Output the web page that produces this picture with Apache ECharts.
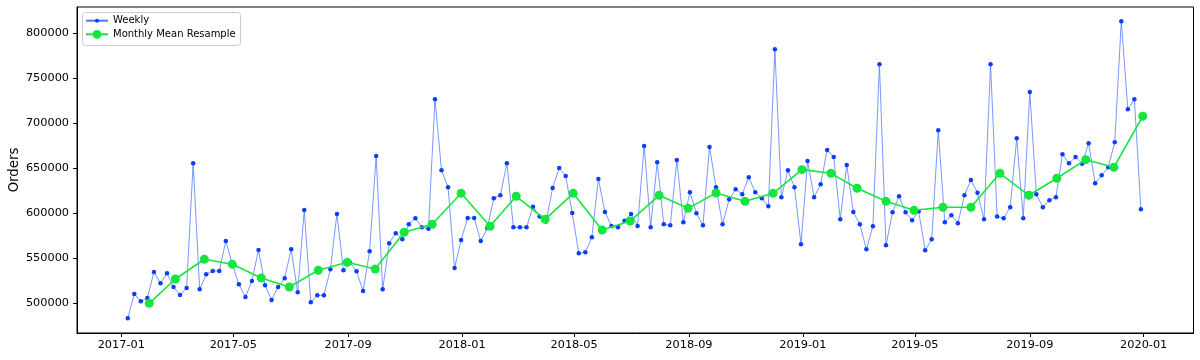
<!DOCTYPE html>
<html>
<head>
<meta charset="utf-8">
<script src="https://cdn.jsdelivr.net/npm/echarts@6/dist/echarts.min.js"></script>
<style>
html,body{margin:0;padding:0;background:#fff;}
#chart{width:1200px;height:360px;}
</style>
</head>
<body>
<div id="chart"></div>
<script>
// ---- data ----
var weeklyStart = '2017-01-08';   // first weekly (Sunday) period end
var weeklyOrders = [
483300,510300,502200,505900,534800,522200,533300,518100,509200,517000,
655500,515500,532200,535900,535900,569200,543300,521100,507000,524800,
559200,520000,503700,518100,527800,560000,512200,603700,501100,508900,
508900,537800,599200,536700,545400,535500,513700,557800,663700,515500,
566700,577800,571100,587800,594400,584400,582900,726700,647800,628900,
539200,570300,594800,594800,569200,583600,616700,620000,655500,584400,
584400,584400,607400,596400,590900,628100,650300,641400,600300,555500,
556600,573300,638100,601400,585900,584400,591800,599200,585900,674800,
584400,656700,587800,586700,659200,590000,623300,600000,586700,673700,
628900,587800,615500,626700,621100,640000,623300,616700,607800,782200,
617800,647800,628900,565600,658100,617800,632200,670300,662600,593300,
653700,601400,587800,560000,585600,765500,564400,601100,618900,601100,
592200,602200,558900,571100,692200,590000,597800,588900,620000,637000,
622900,593300,765500,596400,594400,606700,683300,594400,734800,621100,
606700,614400,617800,665600,655500,662600,655100,677800,633300,642200,
651100,678900,813300,715600,726700,604400
];
var monthlyStart = '2017-01';     // first month (values plotted at month end)
var monthlyOrders = [
500000,527000,548900,543300,528100,518100,536700,545500,538100,578900,587800,622200,
585600,618900,593300,622200,581400,591400,620000,605500,622500,613300,622200,648500,
644400,627800,613300,603300,606700,606700,644400,620000,638900,659600,651100,707800
];
var yTicks = [500000,550000,600000,650000,700000,750000,800000];
var xTickLabels = ['2017-01','2017-05','2017-09','2018-01','2018-05','2018-09','2019-01','2019-05','2019-09','2020-01'];

// ---- build ----
var DAY = 86400000;
function parseDay(s){var p=s.split('-');return Date.UTC(+p[0],+p[1]-1,p[2]?+p[2]:1);}
var w0 = parseDay(weeklyStart);
var weeklyData = weeklyOrders.map(function(v,i){return [w0 + i*7*DAY, v];});
var ms = monthlyStart.split('-');
var monthlyData = monthlyOrders.map(function(v,i){
  return [Date.UTC(+ms[0], +ms[1]-1 + i + 1, 0), v];
});
var xTicks = xTickLabels.map(parseDay);
function pad(n){return (n<10?'0':'')+n;}
function fmt(t){var d=new Date(t);return d.getUTCFullYear()+'-'+pad(d.getUTCMonth()+1);}

var FONT = 'DejaVu Sans';
var chart = echarts.init(document.getElementById('chart'), null, {renderer:'canvas'});
chart.setOption({
  animation:false,
  backgroundColor:'#fff',
  textStyle:{fontFamily:FONT},
  grid:{left:77,right:6.5,top:7,bottom:27,show:true,borderColor:'#000',borderWidth:1,
        backgroundColor:'transparent',containLabel:false,outerBoundsMode:'none'},
  graphic:[{
    type:'rect', left:82, top:12, z:90,
    shape:{width:158,height:33,r:3},
    style:{fill:'rgba(255,255,255,0.8)',stroke:'#cccccc',lineWidth:1}
  }],
  legend:[
    {data:['Weekly'],left:85,top:14.7,padding:0,itemWidth:22,itemHeight:5,itemGap:0,z:100,
     textStyle:{fontFamily:FONT,fontSize:10,color:'#000',lineHeight:12}},
    {data:['Monthly Mean Resample'],left:85,top:28.3,padding:0,itemWidth:22,itemHeight:11,itemGap:0,z:100,
     textStyle:{fontFamily:FONT,fontSize:10,color:'#000',lineHeight:12}}
  ],
  xAxis:{
    type:'value',
    min:Date.UTC(2016,10,14,15), max:Date.UTC(2020,1,23,8),
    splitLine:{show:false},
    axisLine:{show:true,onZero:false,lineStyle:{color:'#000',width:1}},
    axisTick:{show:true,length:4,lineStyle:{color:'#000'},customValues:xTicks},
    axisLabel:{color:'#000',fontFamily:FONT,fontSize:11.3,margin:7,customValues:xTicks,
      formatter:function(v){return fmt(v);}}
  },
  yAxis:{
    type:'value',
    min:467000, max:829200,
    name:'Orders', nameLocation:'middle', nameRotate:90, nameGap:56, nameMoveOverlap:false,
    nameTextStyle:{fontFamily:FONT,fontSize:13.3,color:'#000'},
    splitLine:{show:false},
    axisLine:{show:true,lineStyle:{color:'#000',width:1}},
    axisTick:{show:true,length:4,lineStyle:{color:'#000'},customValues:yTicks},
    axisLabel:{color:'#000',fontFamily:FONT,fontSize:11.3,margin:8,customValues:yTicks,
      formatter:function(v){return String(v);}}
  },
  series:[
    {name:'Weekly',type:'line',data:weeklyData,
     symbol:'circle',symbolSize:4.5,showAllSymbol:true,
     itemStyle:{color:'#0a3dff',borderWidth:0},
     lineStyle:{color:'#4d74ff',width:0.75},
     emphasis:{disabled:true},z:2},
    {name:'Monthly Mean Resample',type:'line',data:monthlyData,
     symbol:'circle',symbolSize:9,
     itemStyle:{color:'#14e63f',borderWidth:0},
     lineStyle:{color:'#14e63f',width:1.6},
     emphasis:{disabled:true},z:3}
  ]
});
</script>
</body>
</html>
